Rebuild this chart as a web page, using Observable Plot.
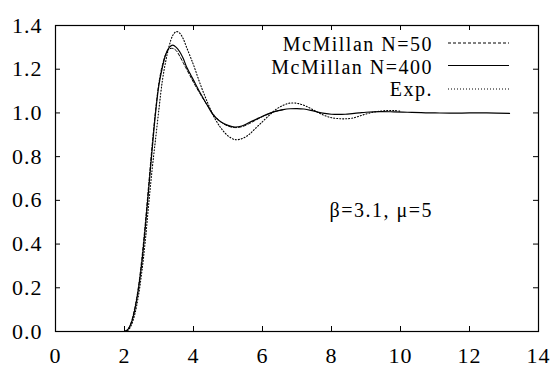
<!DOCTYPE html>
<html>
<head>
<meta charset="utf-8">
<script src="https://cdn.jsdelivr.net/npm/d3@7"></script>
<script src="https://cdn.jsdelivr.net/npm/@observablehq/plot@0.6"></script>
<style>
  html, body { margin: 0; padding: 0; background: #fff; }
</style>
</head>
<body>
<div id="chart"></div>
<script>
// ---- Data ----
const xTicks = [0, 2, 4, 6, 8, 10, 12, 14];
const yTicks = [0, 0.2, 0.4, 0.6, 0.8, 1.0, 1.2, 1.4];

const seriesNames = ["McMillan N=50", "McMillan N=400", "Exp."];

const n50X = [2.0, 2.1, 2.2, 2.3, 2.4, 2.5, 2.6, 2.7, 2.8, 2.9, 3.0, 3.1, 3.2, 3.3, 3.4, 3.5, 3.6, 3.7, 3.8, 3.9, 4.0, 4.2, 4.4, 4.6, 4.8, 5.0, 5.2, 5.4, 5.6, 5.8, 6.0, 6.2, 6.4, 6.6];
const n50Y = [0.0, 0.01, 0.045, 0.11, 0.2, 0.33, 0.49, 0.67, 0.85, 1.01, 1.14, 1.22, 1.27, 1.293, 1.295, 1.285, 1.26, 1.23, 1.20, 1.17, 1.14, 1.085, 1.035, 0.99, 0.958, 0.94, 0.933, 0.937, 0.95, 0.967, 0.983, 0.997, 1.008, 1.015];

const n400X = [2.0, 2.1, 2.2, 2.3, 2.4, 2.5, 2.6, 2.7, 2.8, 2.9, 3.0, 3.1, 3.2, 3.3, 3.4, 3.5, 3.6, 3.7, 3.8, 3.9, 4.0, 4.2, 4.4, 4.6, 4.8, 5.0, 5.2, 5.4, 5.6, 5.8, 6.0, 6.2, 6.4, 6.6, 6.8, 7.0, 7.2, 7.4, 7.6, 7.8, 8.0, 8.2, 8.4, 8.6, 8.8, 9.0, 9.4, 9.8, 10.2, 10.6, 11.0, 11.5, 12.0, 12.5, 13.16];
const n400Y = [0.0, 0.01, 0.04, 0.10, 0.19, 0.31, 0.47, 0.65, 0.83, 1.00, 1.13, 1.21, 1.27, 1.30, 1.31, 1.30, 1.28, 1.25, 1.21, 1.18, 1.15, 1.09, 1.035, 0.985, 0.958, 0.943, 0.935, 0.94, 0.955, 0.97, 0.985, 0.998, 1.008, 1.015, 1.019, 1.02, 1.018, 1.012, 1.004, 0.998, 0.994, 0.993, 0.994, 0.997, 1.0, 1.003, 1.006, 1.005, 1.003, 1.001, 1.0, 0.999, 1.0, 1.0, 0.998];

const expX = [2.0, 2.1, 2.2, 2.3, 2.4, 2.5, 2.6, 2.7, 2.8, 2.9, 3.0, 3.1, 3.2, 3.3, 3.4, 3.5, 3.6, 3.7, 3.8, 3.9, 4.0, 4.2, 4.4, 4.6, 4.8, 5.0, 5.2, 5.4, 5.6, 5.8, 6.0, 6.2, 6.4, 6.6, 6.8, 7.0, 7.2, 7.4, 7.6, 7.8, 8.0, 8.2, 8.4, 8.6, 8.8, 9.0, 9.2, 9.4, 9.6, 9.8, 10.0];
const expY = [0.0, 0.005, 0.03, 0.08, 0.16, 0.27, 0.41, 0.58, 0.74, 0.88, 1.02, 1.15, 1.24, 1.31, 1.355, 1.372, 1.365, 1.34, 1.30, 1.26, 1.22, 1.13, 1.05, 0.98, 0.93, 0.895, 0.878, 0.882, 0.90, 0.93, 0.96, 0.99, 1.017, 1.035, 1.045, 1.044, 1.035, 1.02, 1.003, 0.988, 0.978, 0.974, 0.973, 0.976, 0.985, 0.995, 1.003, 1.008, 1.011, 1.011, 1.008];

const annotation = "β=3.1, μ=5";

// ---- Build tables ----
const toRows = (xs, ys) => xs.map((x, i) => ({x, y: ys[i]}));
const n50 = toRows(n50X, n50Y);
const n400 = toRows(n400X, n400Y);
const expData = toRows(expX, expY);

const W = 554, H = 367;
const mL = 55, mR = 16, mT = 25, mB = 36;
const plotW = W - mL - mR, plotH = H - mT - mB;
const tickLen = 5;
const FONT = "Liberation Serif";

const styles = {
  n50: {stroke: "#000", strokeWidth: 1, strokeDasharray: "3,2"},
  n400: {stroke: "#000", strokeWidth: 1.2},
  exp: {stroke: "#000", strokeWidth: 1.1, strokeDasharray: "1,2"}
};

const plot = Plot.plot({
  width: W,
  height: H,
  marginLeft: mL,
  marginRight: mR,
  marginTop: mT,
  marginBottom: mB,
  style: {color: "#000", background: "#fff"},
  x: {domain: [0, 14]},
  y: {domain: [0, 1.4]},
  marks: [
    Plot.frame({stroke: "#000", strokeWidth: 1.2}),
    // inward ticks on all four sides (gnuplot style)
    Plot.tickX(xTicks, {x: d => d, insetTop: plotH - tickLen, stroke: "#000"}),
    Plot.tickX(xTicks, {x: d => d, insetBottom: plotH - tickLen, stroke: "#000"}),
    Plot.tickY(yTicks, {y: d => d, insetRight: plotW - tickLen, stroke: "#000"}),
    Plot.tickY(yTicks, {y: d => d, insetLeft: plotW - tickLen, stroke: "#000"}),
    Plot.axisX({ticks: xTicks, tickSize: 0, tickPadding: 16, tickFormat: d3.format("d"), fontSize: 22, fontFamily: FONT, label: null}),
    Plot.axisY({ticks: yTicks, tickSize: 0, tickPadding: 13, tickFormat: d3.format(".1f"), fontSize: 22, fontFamily: FONT, label: null}),
    Plot.line(n50, {x: "x", y: "y", curve: "catmull-rom", ...styles.n50}),
    Plot.line(expData, {x: "x", y: "y", curve: "catmull-rom", ...styles.exp}),
    Plot.line(n400, {x: "x", y: "y", curve: "catmull-rom", ...styles.n400})
  ]
});

document.getElementById("chart").appendChild(plot);

const svg = d3.select(plot);
svg.selectAll("g[aria-label='x-axis tick label'] text, g[aria-label='y-axis tick label'] text")
  .attr("letter-spacing", "1");

// ---- Legend (gnuplot style, top right inside the frame) ----
const legendStyles = [styles.n50, styles.n400, styles.exp];
const textRight = W - mR - 105;
const lineX1 = W - mR - 90, lineX2 = W - mR - 29;
const baselines = [mT + 25.7, mT + 48.5, mT + 71.3];
const lineYs = [mT + 18, mT + 40.5, mT + 64];
const lg = svg.append("g").attr("class", "legend");
seriesNames.forEach((name, i) => {
  lg.append("text")
    .attr("x", textRight).attr("y", baselines[i])
    .attr("text-anchor", "end")
    .style("font-family", FONT).style("font-size", "20px")
    .attr("letter-spacing", "1.5")
    .attr("fill", "#000")
    .text(name);
  const s = legendStyles[i];
  lg.append("line")
    .attr("x1", lineX1).attr("x2", lineX2)
    .attr("y1", lineYs[i]).attr("y2", lineYs[i])
    .attr("stroke", s.stroke).attr("stroke-width", s.strokeWidth)
    .attr("stroke-dasharray", s.strokeDasharray || null);
});

// ---- Annotation ----
svg.append("text")
  .attr("x", textRight).attr("y", 217)
  .attr("text-anchor", "end")
  .style("font-family", FONT).style("font-size", "20px")
  .attr("letter-spacing", "1.5")
  .attr("fill", "#000")
  .text(annotation);
</script>
</body>
</html>
